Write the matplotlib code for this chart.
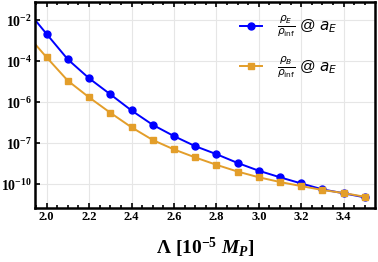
import numpy as np
from matplotlib import pyplot as plt

plt.rcParams['mathtext.fontset'] = 'custom'
plt.rcParams['mathtext.rm'] = 'Liberation Serif:bold'
plt.rcParams['mathtext.it'] = 'Liberation Serif:bold:italic'
plt.rcParams['mathtext.bf'] = 'Liberation Serif:bold'

# Lambda in units of 1e-5 M_P
lam = [1.9, 2.0, 2.1, 2.2, 2.3, 2.4, 2.5, 2.6, 2.7, 2.8, 2.9, 3.0, 3.1, 3.2, 3.3, 3.4, 3.5]
# values on the chart's own (uneven) log axis
rho_E = [-1.42, -2.68, -3.92, -4.84, -5.62, -6.41, -7.11, -7.66, -8.15, -8.54,
         -8.97, -9.35, -9.67, -9.97, -10.26, -10.45, -10.65]
rho_B = [-2.63, -3.82, -4.96, -5.77, -6.52, -7.23, -7.85, -8.31, -8.70, -9.06,
         -9.39, -9.67, -9.90, -10.10, -10.29, -10.44, -10.62]

ytick_pos = [-2, -4, -6, -8, -10]
ytick_lab = [r'$10^{-2}$', r'$10^{-4}$', r'$10^{-6}$', r'$10^{-7}$', r'$10^{-10}$']
xtick_pos = [2.0, 2.2, 2.4, 2.6, 2.8, 3.0, 3.2, 3.4]

fig = plt.figure(figsize=(3.78, 2.62), dpi=100)
ax = fig.add_axes([0.0926, 0.206, 0.899, 0.786])

ax.plot(lam, rho_E, color='#0000ff', lw=1.4, marker='o', ms=5,
        label=r'$\frac{\rho_E}{\rho_{\rm inf}}$ @ $a_E$')
ax.plot(lam, rho_B, color='#e39e2a', lw=1.4, marker='s', ms=4.8,
        label=r'$\frac{\rho_B}{\rho_{\rm inf}}$ @ $a_E$')

ax.set_xlim(1.945, 3.547)
ax.set_ylim(-11.17, -1.12)
ax.set_xticks(xtick_pos)
ax.set_xticklabels(['%.1f' % v for v in xtick_pos], family='Liberation Serif',
                   fontweight='bold', fontsize=9)
ax.set_xticks(np.arange(1.95, 3.55, 0.05), minor=True)
ax.set_yticks(ytick_pos)
ax.set_yticklabels(ytick_lab, fontsize=10)
ax.tick_params(which='both', direction='in', top=True, right=False, width=1.2)
ax.tick_params(which='major', length=3.5, pad=2)
ax.tick_params(which='minor', length=2)
ax.grid(True, color='#e6e6e6', lw=0.8)
ax.set_axisbelow(True)
for s in ax.spines.values():
    s.set_linewidth(1.8)

ax.set_xlabel(r'$\Lambda\ [10^{-5}\ M_P]$', fontsize=14, labelpad=9)

ax.legend(loc='upper right', bbox_to_anchor=(0.93, 1.01), frameon=False,
          prop=dict(family='Liberation Sans', size=11, math_fontfamily='dejavusans'),
          handlelength=1.4, labelspacing=1.0, handletextpad=1.0, borderaxespad=0.5)

fig.savefig('out.png', dpi=100)
